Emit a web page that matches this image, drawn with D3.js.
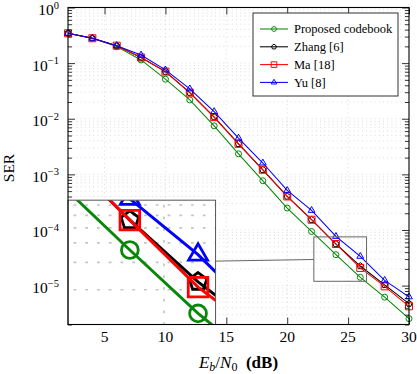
<!DOCTYPE html>
<html>
<head>
<meta charset="utf-8">
<script src="https://cdn.jsdelivr.net/npm/d3@7"></script>
<style>
body { margin: 0; background: #fff; }
text { font-family: "Liberation Serif", "DejaVu Serif", serif; }
</style>
</head>
<body>
<svg id="chart" width="417" height="374"></svg>
<script>
// Eb/N0 in dB and SER for each scheme
var ebn0 = [2, 4, 6, 8, 10, 12, 14, 16, 18, 20, 22, 24, 26, 28, 30];
var proposed = [0.344, 0.28, 0.198, 0.114, 0.0514, 0.0218, 0.00746, 0.00234, 7.67e-4, 2.48e-4, 9.4e-5, 3.6e-5, 1.41e-5, 6.2e-6, 2.55e-6];
var zhang = [0.344, 0.28, 0.206, 0.126, 0.0704, 0.0295, 0.0107, 0.00354, 1.21e-3, 4.01e-4, 1.53e-4, 5.6e-5, 2.25e-5, 1.03e-5, 4.75e-6];
var ma = [0.344, 0.28, 0.206, 0.126, 0.0704, 0.0295, 0.0107, 0.00354, 1.21e-3, 4.01e-4, 1.53e-4, 5.6e-5, 2.08e-5, 9.7e-6, 4.25e-6];
var yu = [0.344, 0.28, 0.206, 0.140, 0.0755, 0.0344, 0.01346, 0.00449, 1.6e-3, 5.14e-4, 2.25e-4, 7.67e-5, 3.36e-5, 1.245e-5, 6.27e-6];
var names = ["Proposed codebook", "Zhang [6]", "Ma [18]", "Yu [8]"];
var xTicks = [5, 10, 15, 20, 25, 30];
var yExps = [0, -1, -2, -3, -4, -5];

var pLeft = 68, pRight = 409, pTop = 7.5, pBottom = 324.5;
var svg = d3.select("#chart");

var x = d3.scaleLinear().domain([2, 30]).range([pLeft, pRight]);
var y = d3.scaleLog().domain([2e-6, 1]).range([pBottom, pTop]);

var series = [
  {name: names[0], values: proposed, color: "#0a870a", mark: "circle"},
  {name: names[1], values: zhang, color: "#000", mark: "pentagon"},
  {name: names[2], values: ma, color: "#ff0000", mark: "square"},
  {name: names[3], values: yu, color: "#0000ff", mark: "triangle"}
];

function polygon(n, r, start) {
  var pts = [];
  for (var k = 0; k < n; k++) {
    var a = (start + k * 360 / n) * Math.PI / 180;
    pts.push([r * Math.cos(a), r * Math.sin(a)]);
  }
  return "M" + pts.map(p => p[0].toFixed(2) + "," + p[1].toFixed(2)).join("L") + "Z";
}
function markPath(type) {
  if (type == "circle") return d3.symbol(d3.symbolCircle, Math.PI * 3 * 3)();
  if (type == "square") return "M-3.5,-3.5h7v7h-7Z";
  if (type == "triangle") return polygon(3, 3.9, -90);
  return polygon(5, 3.3, -90);
}

var line = d3.line()
  .x((d, i) => x(ebn0[i]))
  .y(d => y(d));

// grid + curves, reused by the magnified inset
function drawContent(g) {
  g.append("g").selectAll("line").data(y.ticks()).enter().append("line")
    .attr("x1", pLeft).attr("x2", pRight)
    .attr("y1", d => y(d)).attr("y2", d => y(d))
    .attr("stroke", "#c4c4c4").attr("stroke-width", 0.6)
    .attr("stroke-dasharray", "1,3.2");
  g.append("g").selectAll("line").data(xTicks.slice(0, -1)).enter().append("line")
    .attr("x1", d => x(d)).attr("x2", d => x(d))
    .attr("y1", pTop).attr("y2", pBottom)
    .attr("stroke", "#c4c4c4").attr("stroke-width", 0.6)
    .attr("stroke-dasharray", "1,3.2");

  series.forEach(function(s) {
    g.append("path")
      .attr("d", line(s.values))
      .attr("fill", "none")
      .attr("stroke", s.color)
      .attr("stroke-width", 1.05);
    g.append("g").selectAll("path").data(s.values).enter().append("path")
      .attr("transform", (d, i) => "translate(" + x(ebn0[i]) + "," + y(d) + ")")
      .attr("d", markPath(s.mark))
      .attr("fill", "none")
      .attr("stroke", s.color)
      .attr("stroke-width", 1);
  });
}

drawContent(svg.append("g"));

// ticks (inward)
svg.append("g").attr("transform", "translate(0," + pBottom + ")")
  .call(d3.axisBottom(x).tickValues(xTicks).tickSize(-7).tickFormat(""))
  .call(g => g.select(".domain").remove());
svg.append("g").attr("transform", "translate(0," + pTop + ")")
  .call(d3.axisTop(x).tickValues(xTicks).tickSize(-7).tickFormat(""))
  .call(g => g.select(".domain").remove());
var major = yExps.map(e => Math.pow(10, e));
var minor = y.ticks().filter(d => Math.abs(Math.log10(d) - Math.round(Math.log10(d))) > 1e-6);
[[d3.axisLeft, pLeft], [d3.axisRight, pRight]].forEach(function(a) {
  svg.append("g").attr("transform", "translate(" + a[1] + ",0)")
    .call(a[0](y).tickValues(major).tickSize(-7).tickFormat(""))
    .call(g => g.select(".domain").remove());
  svg.append("g").attr("transform", "translate(" + a[1] + ",0)")
    .call(a[0](y).tickValues(minor).tickSize(-4).tickFormat(""))
    .call(g => g.select(".domain").remove());
});
svg.selectAll(".tick line").attr("stroke", "#000").attr("stroke-width", 0.8);

// spy: zoomed region and magnified inset
var spyCx = x(24.35), spyCy = y(3e-5), spyW = 52.7, spyH = 44.4, mag = 2.8;
var insW = spyW * mag, insH = spyH * mag;
var insX = pLeft, insY = pBottom - insH;
var insCx = insX + insW / 2, insCy = insY + insH / 2;

svg.append("clipPath").attr("id", "inset-clip")
  .append("rect").attr("x", insX).attr("y", insY).attr("width", insW).attr("height", insH);
var inset = svg.append("g").attr("clip-path", "url(#inset-clip)");
inset.append("rect").attr("x", insX).attr("y", insY).attr("width", insW).attr("height", insH)
  .attr("fill", "#fff");
drawContent(inset.append("g")
  .attr("transform", "translate(" + insCx + "," + insCy + ") scale(" + mag + ") translate(" + (-spyCx) + "," + (-spyCy) + ")"));

svg.append("rect")
  .attr("x", spyCx - spyW / 2).attr("y", spyCy - spyH / 2)
  .attr("width", spyW).attr("height", spyH)
  .attr("fill", "none").attr("stroke", "#666").attr("stroke-width", 1);
svg.append("rect")
  .attr("x", insX).attr("y", insY).attr("width", insW).attr("height", insH)
  .attr("fill", "none").attr("stroke", "#555").attr("stroke-width", 1);
var t1 = (insX + insW - insCx) / (spyCx - insCx), t2 = (spyCx - spyW / 2 - insCx) / (spyCx - insCx);
svg.append("line")
  .attr("x1", insX + insW).attr("y1", insCy + t1 * (spyCy - insCy))
  .attr("x2", spyCx - spyW / 2).attr("y2", insCy + t2 * (spyCy - insCy))
  .attr("stroke", "#666").attr("stroke-width", 1);

// axis frame
svg.append("rect")
  .attr("x", pLeft).attr("y", pTop).attr("width", pRight - pLeft).attr("height", pBottom - pTop)
  .attr("fill", "none").attr("stroke", "#000").attr("stroke-width", 1.1);

// tick labels
svg.append("g").selectAll("text").data(xTicks).enter().append("text")
  .attr("x", d => x(d)).attr("y", 341.5)
  .attr("text-anchor", "middle").attr("font-size", 15.5)
  .text(d => d);
var yl = svg.append("g").selectAll("text").data(yExps).enter().append("text")
  .attr("x", 59).attr("y", d => y(Math.pow(10, d)) + 7.5)
  .attr("text-anchor", "end").attr("font-size", 15.5);
yl.append("tspan").text("10");
yl.append("tspan").attr("dy", -6.5).attr("font-size", 10.5).text(d => d == 0 ? "0" : "\u2212" + (-d));

// axis titles
svg.append("text")
  .attr("transform", "translate(14," + ((pTop + pBottom) / 2 + 2) + ") rotate(-90)")
  .attr("text-anchor", "middle").attr("font-size", 15.5)
  .text("SER");
var xl = svg.append("text")
  .attr("x", (pLeft + pRight) / 2).attr("y", 368)
  .attr("text-anchor", "middle").attr("font-size", 17);
xl.append("tspan").attr("font-style", "italic").text("E");
xl.append("tspan").attr("font-style", "italic").attr("font-size", 12).attr("dy", 3).text("b");
xl.append("tspan").attr("dy", -3).text("/");
xl.append("tspan").attr("font-style", "italic").text("N");
xl.append("tspan").attr("font-size", 12).attr("dy", 3).text("0");
xl.append("tspan").attr("dy", -3).attr("font-weight", "bold").text("\u2002(dB)");

// legend
var lg = svg.append("g");
lg.append("rect").attr("x", 253).attr("y", 13).attr("width", 145).attr("height", 83)
  .attr("fill", "#fff").attr("stroke", "#333").attr("stroke-width", 1);
var row = lg.selectAll("g.row").data(series).enter().append("g")
  .attr("transform", (d, i) => "translate(0," + (29 + i * 17.8) + ")");
row.append("line").attr("x1", 260).attr("x2", 288)
  .attr("stroke", d => d.color).attr("stroke-width", 1.05);
row.append("path").attr("transform", "translate(274,0) scale(0.8)")
  .attr("d", d => markPath(d.mark))
  .attr("fill", "none").attr("stroke", d => d.color).attr("stroke-width", 1.2);
row.append("text").attr("x", 294).attr("y", 4.2).attr("font-size", 12.5)
  .text(d => d.name);
</script>
</body>
</html>
